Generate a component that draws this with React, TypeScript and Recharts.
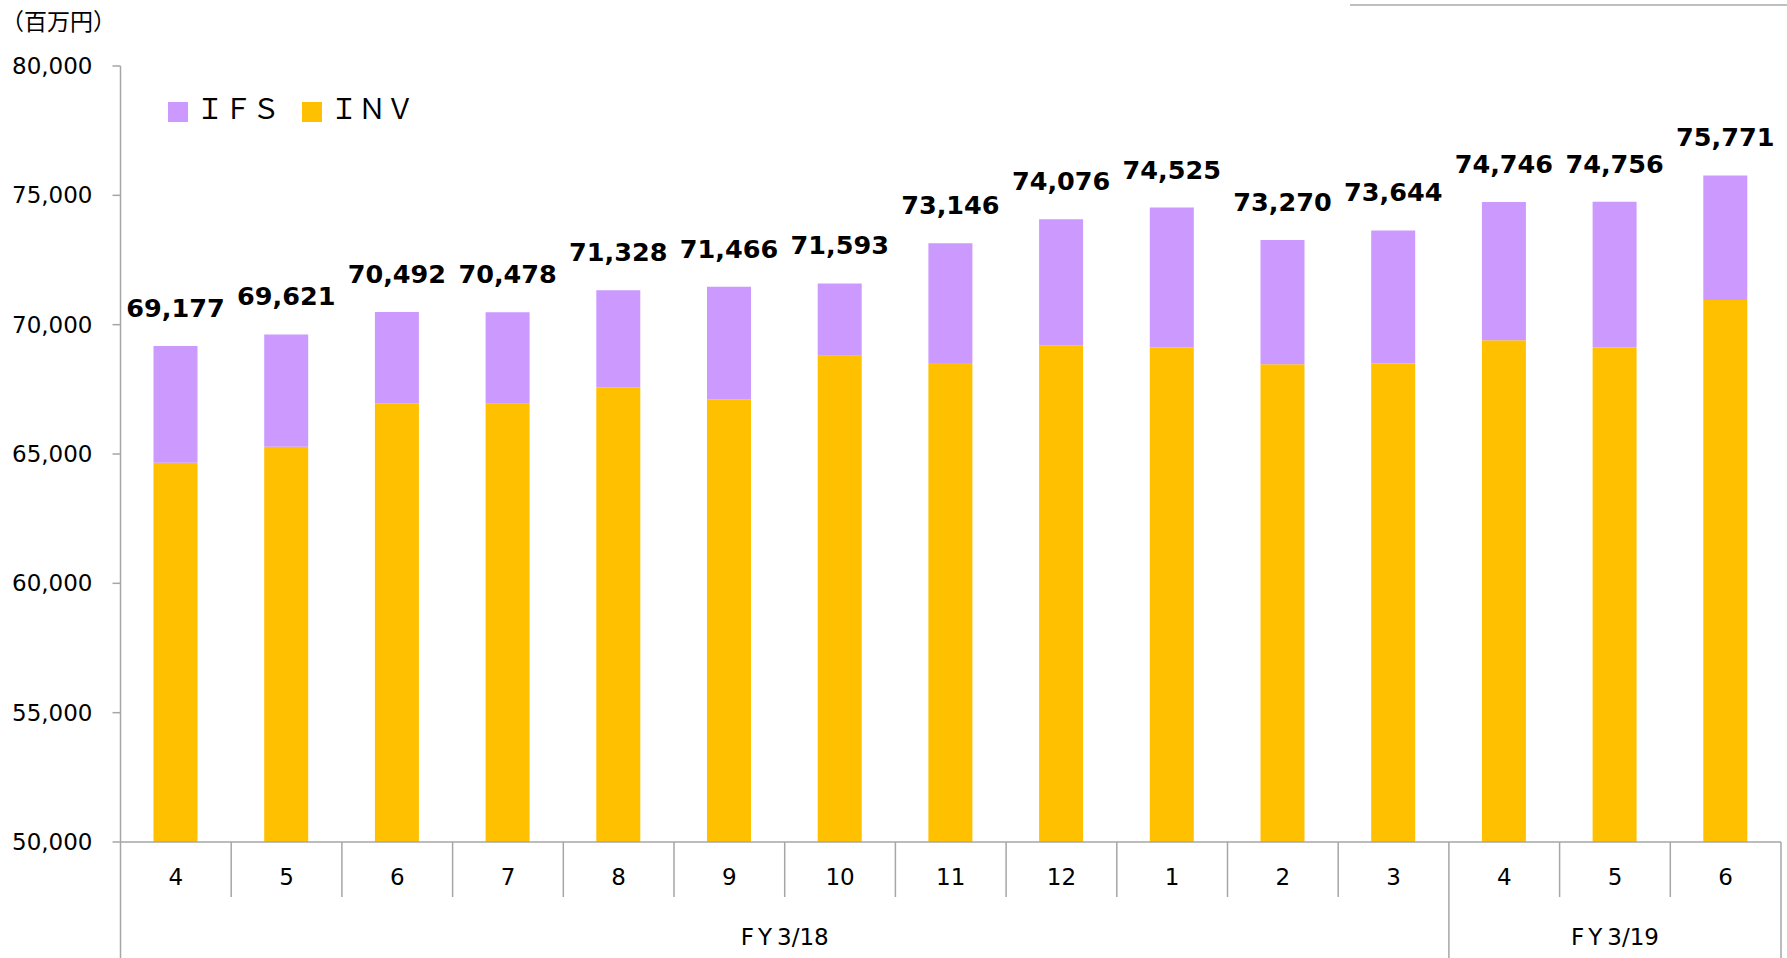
import { BarChart, Bar, XAxis, YAxis, Legend, LabelList } from 'recharts';

const months = ['4', '5', '6', '7', '8', '9', '10', '11', '12', '1', '2', '3', '4', '5', '6'];
const fiscalYears = [
  '3/18', '3/18', '3/18', '3/18', '3/18', '3/18', '3/18', '3/18', '3/18', '3/18', '3/18', '3/18',
  '3/19', '3/19', '3/19',
];
const invValues = [64660, 65280, 66960, 66940, 67580, 67120, 68800, 68520, 69200, 69120, 68470, 68500, 69400, 69120, 70950];
const totals = [69177, 69621, 70492, 70478, 71328, 71466, 71593, 73146, 74076, 74525, 73270, 73644, 74746, 74756, 75771];
const yTicks = [50000, 55000, 60000, 65000, 70000, 75000, 80000];

const series = [
  { key: 'ifs', name: 'ＩＦＳ', color: '#CC99FF' },
  { key: 'inv', name: 'ＩＮＶ', color: '#FFC000' },
];

const data = months.map((m, i) => ({
  month: m,
  fy: fiscalYears[i],
  inv: invValues[i],
  ifs: totals[i] - invValues[i],
  total: totals[i],
}));

const W = 1787;
const H = 958;
const LEFT = 120.5;
const RIGHT = 6;
const BAND = (W - LEFT - RIGHT) / months.length;
const AXIS_COLOR = '#a6a6a6';
const FONT = '"DejaVu Sans", Verdana, sans-serif';

const MonthTick = (props: any) => {
  const { x, y, payload } = props;
  const i = props.index ?? payload.index;
  const left = x - BAND / 2;
  const right = x + BAND / 2;
  const groupStart = i === 0 || fiscalYears[i] !== fiscalYears[i - 1];
  const last = i === months.length - 1;
  const groupSize = fiscalYears.filter((f) => f === fiscalYears[i]).length;
  const bottom = H - y;
  return (
    <g>
      <line x1={left} x2={left} y1={y} y2={y + (groupStart ? bottom : 55)} stroke={AXIS_COLOR} strokeWidth={1.5} />
      {last && <line x1={right} x2={right} y1={y} y2={y + bottom} stroke={AXIS_COLOR} strokeWidth={1.5} />}
      <text x={x} y={y + 35} dy="0.355em" textAnchor="middle" fontSize={23} fontFamily={FONT} fill="#000">
        {months[i]}
      </text>
      {groupStart && (
        <text x={left + (groupSize * BAND) / 2} y={y + 95} dy="0.355em" textAnchor="middle" fontSize={23} fontFamily={FONT} fill="#000">
          <tspan>F</tspan>
          <tspan dx={4}>Y</tspan>
          <tspan dx={5}>{fiscalYears[i]}</tspan>
        </text>
      )}
    </g>
  );
};

const TotalLabel = (props: any) => {
  const { x, y, width, value } = props;
  return (
    <text x={x + width / 2} y={y - 29} textAnchor="middle" fontSize={25.5} fontWeight="bold" fontFamily={FONT} fill="#000">
      {Number(value).toLocaleString('en-US')}
    </text>
  );
};

const LegendContent = () => (
  <div style={{ display: 'flex', alignItems: 'center' }}>
    {series.map((s) => (
      <div key={s.key} style={{ display: 'flex', alignItems: 'center', marginRight: 22 }}>
        <span style={{ display: 'inline-block', width: 20, height: 20, background: s.color, marginRight: 8, marginTop: 10 }} />
        <span style={{ fontSize: 28, fontFamily: '"Noto Sans CJK JP", sans-serif', color: '#000', lineHeight: '40px' }}>{s.name}</span>
      </div>
    ))}
  </div>
);

export default function App() {
  return (
    <div style={{ position: 'absolute', left: 0, top: 0, width: W, height: H, background: '#fff' }}>
      <div
        style={{
          position: 'absolute', left: 1, top: 5, fontSize: 23, lineHeight: '30px',
          fontFamily: '"Noto Sans CJK JP", sans-serif', color: '#000',
        }}
      >
        （百万円）
      </div>
      <div style={{ position: 'absolute', left: 1350, top: 4, width: W - 1350, height: 2, background: '#bfbfbf' }} />
      <BarChart width={W} height={H} data={data} margin={{ top: 66, right: RIGHT, left: 0, bottom: 0 }}>
        <YAxis
          width={LEFT}
          domain={[50000, 80000]}
          ticks={yTicks}
          allowDataOverflow
          tickSize={8}
          tickMargin={20}
          axisLine={{ stroke: AXIS_COLOR, strokeWidth: 1.5 }}
          tickLine={{ stroke: AXIS_COLOR, strokeWidth: 1.5 }}
          tick={{ fontSize: 23, fontFamily: FONT, fill: '#000' }}
          tickFormatter={(v: number) => v.toLocaleString('en-US')}
        />
        <XAxis
          dataKey="month"
          height={H - 842}
          interval={0}
          tickSize={0}
          tickMargin={0}
          tickLine={false}
          axisLine={{ stroke: AXIS_COLOR, strokeWidth: 1.5 }}
          tick={<MonthTick />}
        />
        <Legend
          layout="vertical"
          align="center"
          verticalAlign="middle"
          wrapperStyle={{ left: 168, top: 87, width: 'auto' }}
          content={<LegendContent />}
        />
        <Bar dataKey="inv" name="ＩＮＶ" stackId="a" fill="#FFC000" barSize={44} isAnimationActive={false} />
        <Bar dataKey="ifs" name="ＩＦＳ" stackId="a" fill="#CC99FF" barSize={44} isAnimationActive={false}>
          <LabelList dataKey="total" content={<TotalLabel />} />
        </Bar>
      </BarChart>
    </div>
  );
}
